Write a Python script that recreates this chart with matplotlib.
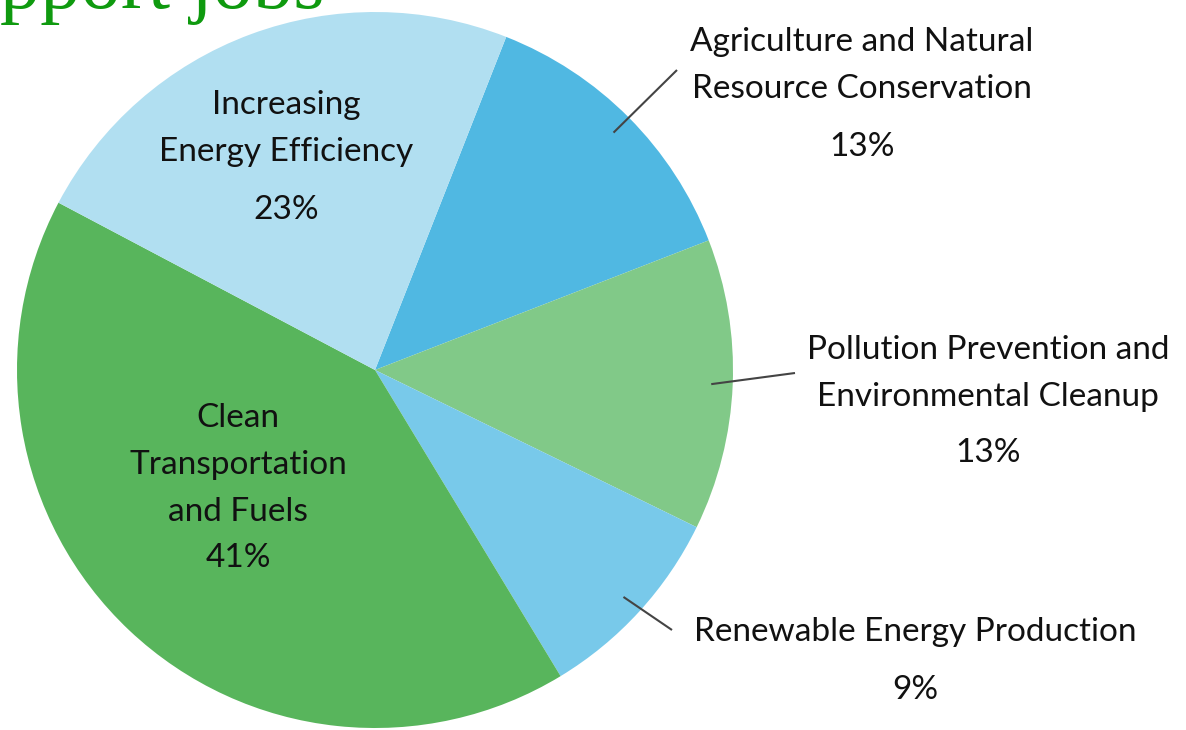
import numpy as np
import matplotlib
matplotlib.use("Agg")
import matplotlib.pyplot as plt

# slices, clockwise from the top boundary
names = ["Agriculture and Natural\nResource Conservation",
         "Pollution Prevention and\nEnvironmental Cleanup",
         "Renewable Energy Production",
         "Clean\nTransportation\nand Fuels",
         "Increasing\nEnergy Efficiency"]
shares = [13, 13, 9, 41, 23]
colors = ["#50b8e2", "#81c988", "#78c9ea", "#58b55c", "#b1dff1"]

# label placement in pixels (name centre x, first line y, percent y)
label_pos = [(862, 42, 147), (988, 350, 453), (915, 632, 690),
             (238, 418, 558), (286, 105, 210)]
# which labels get a leader line (text end of the line, pixels)
leader_end = [(677, 70), (795, 373), (672, 630), None, None]

W, H = 1186, 730
cx, cy, R = 375, 370, 358

fig = plt.figure(figsize=(W / 100, H / 100), dpi=100)
ax = fig.add_axes([0, 0, 1, 1])

wedges, _ = ax.pie(shares, colors=colors, startangle=68.5, counterclock=False,
                   radius=1, center=(0, 0), frame=True,
                   wedgeprops=dict(linewidth=0))
ax.set_xlim(-cx / R, (W - cx) / R)
ax.set_ylim(-(H - cy) / R, cy / R)
ax.set_aspect("equal")
ax.axis("off")


def px(x, y):
    return ((x - cx) / R, (cy - y) / R)


font = "Lato"
fs = 24
for w, name, share, pos, end in zip(wedges, names, shares, label_pos, leader_end):
    x, y1, yp = pos
    for i, line in enumerate(name.split("\n")):
        ax.text(*px(x, y1 + i * 47), line, ha="center", va="center",
                fontsize=fs, family=font, color="#111111")
    ax.text(*px(x, yp), f"{share}%", ha="center", va="center",
            fontsize=fs, family=font, color="#111111")
    if end is not None:
        mid = np.deg2rad((w.theta1 + w.theta2) / 2)
        ax.plot([0.94 * np.cos(mid), px(*end)[0]],
                [0.94 * np.sin(mid), px(*end)[1]],
                color="#444444", lw=1.5, solid_capstyle="butt")

# cropped title at the very top (cut off in the original too)
ax.text(*px(0, 8), "pport jobs", ha="left", va="baseline",
        fontsize=58, family="Liberation Serif", color="#0f9a0f")

fig.savefig("out.png", dpi=100)
